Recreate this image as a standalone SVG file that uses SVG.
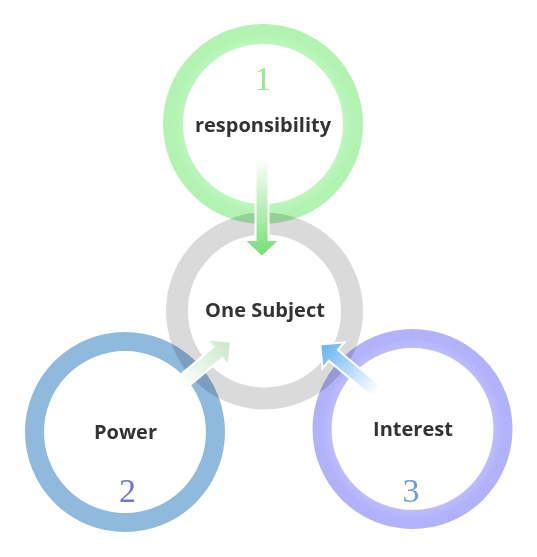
<svg xmlns="http://www.w3.org/2000/svg" width="537" height="557" viewBox="0 0 537 557">
<style>
.ring{fill:none}
.lbl{font-family:"Open Sans","Noto Sans","DejaVu Sans",sans-serif;font-weight:bold;font-size:20px;fill:#333333;text-anchor:middle}
.num{font-family:"Liberation Serif","DejaVu Serif",serif;font-size:34px;text-anchor:middle}
.arrow{stroke:#ffffff;stroke-width:2;stroke-linejoin:miter}
.mul{mix-blend-mode:multiply}
</style>
<defs>
<radialGradient id="gGreen" cx="0.5" cy="0.5" r="0.5">
<stop offset="0.8" stop-color="#c6f9c6"/>
<stop offset="1" stop-color="#b2f3b2"/>
</radialGradient>
<radialGradient id="gPurple" cx="0.5" cy="0.5" r="0.5">
<stop offset="0.8" stop-color="#c6c6ff"/>
<stop offset="1" stop-color="#b2b2fb"/>
</radialGradient>
<linearGradient id="aGreen" x1="0" y1="0" x2="1" y2="0">
<stop offset="0" stop-color="#ffffff"/>
<stop offset="1" stop-color="#72df72"/>
</linearGradient>
<linearGradient id="aLight" x1="0" y1="0" x2="1" y2="0">
<stop offset="0" stop-color="#ffffff"/>
<stop offset="1" stop-color="#c9e7c9"/>
</linearGradient>
<linearGradient id="aBlue" x1="0" y1="0" x2="1" y2="0">
<stop offset="0" stop-color="#ffffff"/>
<stop offset="1" stop-color="#62b2f2"/>
</linearGradient>
</defs>
<rect width="537" height="557" fill="#ffffff"/>
<g id="node-subject">
<circle class="ring" cx="264.5" cy="311" r="87.5" stroke="#dadada" stroke-width="22"/>
<text class="lbl" x="265" y="317">One Subject</text>
</g>
<g id="node-responsibility">
<circle class="ring mul" cx="263" cy="124" r="90" stroke="url(#gGreen)" stroke-width="20"/>
<text class="num" x="263" y="90" fill="#90ee90">1</text>
<text class="lbl" x="263" y="132">responsibility</text>
</g>
<g id="node-power">
<circle class="ring mul" cx="125" cy="432" r="90.5" stroke="#8fb9dd" stroke-width="19"/>
<text class="lbl" x="125.5" y="439">Power</text>
<text class="num" x="127.5" y="502" fill="#7272d8">2</text>
</g>
<g id="node-interest">
<circle class="ring mul" cx="412.5" cy="429" r="90.5" stroke="url(#gPurple)" stroke-width="19"/>
<text class="lbl" x="413" y="436">Interest</text>
<text class="num" x="411" y="502" fill="#6d9be0">3</text>
</g>
<g id="connectors">
<path class="arrow" fill="url(#aGreen)" transform="translate(262,158) rotate(90)" d="M0,-6.5 L82,-6.5 L82,-18 L99,0 L82,18 L82,6.5 L0,6.5 Z"/>
<path class="arrow" fill="url(#aLight)" transform="translate(178,386) rotate(-40)" d="M0,-7 L52,-7 L52,-17 L69,0 L52,17 L52,7 L0,7 Z"/>
<path class="arrow" fill="url(#aBlue)" transform="translate(377,392) rotate(220)" d="M0,-7 L57,-7 L57,-17 L74,0 L57,17 L57,7 L0,7 Z"/>
</g>
</svg>
